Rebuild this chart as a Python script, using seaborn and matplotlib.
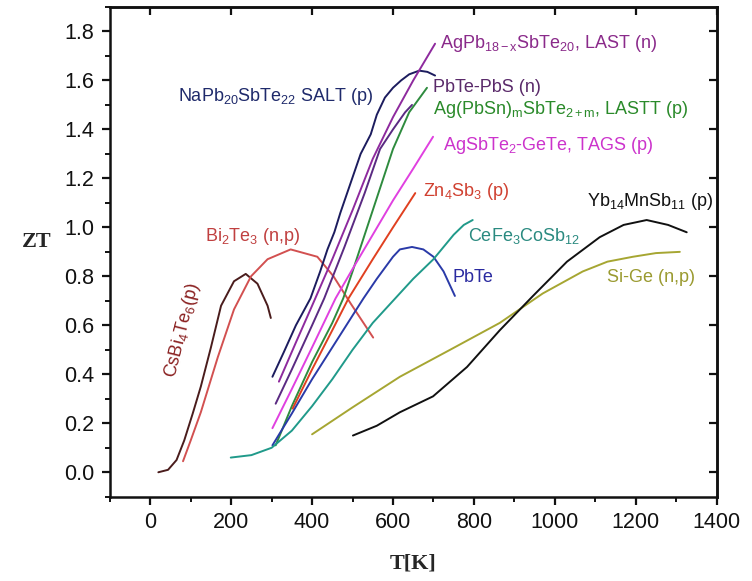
import pandas as pd
import seaborn as sns
import matplotlib
matplotlib.use("Agg")
import matplotlib.pyplot as plt
from matplotlib.ticker import MultipleLocator

# ZT vs temperature curves
csbi4te6_T = [20, 44, 65, 84, 105, 125, 150, 175, 207, 236, 265, 290, 298]
csbi4te6_ZT = [0.0, 0.01, 0.05, 0.13, 0.24, 0.35, 0.51, 0.68, 0.78, 0.81, 0.77, 0.68, 0.63]

bi2te3_T = [81, 100, 125, 167, 207, 249, 290, 347, 413, 453, 495, 551]
bi2te3_ZT = [0.045, 0.13, 0.245, 0.47, 0.665, 0.80, 0.87, 0.91, 0.88, 0.80, 0.69, 0.55]

salt_T = [302, 330, 360, 396, 420, 438, 455, 470, 495, 520, 545, 560, 580, 600, 620, 640, 665, 685, 704]
salt_ZT = [0.39, 0.49, 0.60, 0.71, 0.82, 0.91, 0.98, 1.06, 1.18, 1.30, 1.38, 1.46, 1.53, 1.57, 1.60, 1.625, 1.64, 1.635, 1.62]

last_T = [318, 360, 400, 450, 500, 550, 600, 650, 704]
last_ZT = [0.37, 0.53, 0.68, 0.87, 1.07, 1.28, 1.45, 1.60, 1.75]

pbtepbs_T = [310, 350, 400, 430, 480, 530, 568, 600, 630, 647]
pbtepbs_ZT = [0.28, 0.42, 0.60, 0.71, 0.92, 1.14, 1.32, 1.40, 1.47, 1.50]

lastt_T = [310, 350, 400, 450, 477, 500, 550, 600, 640, 684]
lastt_ZT = [0.11, 0.27, 0.45, 0.61, 0.71, 0.82, 1.07, 1.32, 1.47, 1.57]

tags_T = [302, 350, 400, 458, 500, 550, 600, 650, 699]
tags_ZT = [0.18, 0.34, 0.51, 0.71, 0.83, 0.97, 1.11, 1.24, 1.37]

zn4sb3_T = [352, 400, 450, 490, 550, 600, 655]
zn4sb3_ZT = [0.26, 0.42, 0.58, 0.71, 0.87, 1.00, 1.14]

pbte_T = [302, 350, 400, 450, 500, 527, 560, 600, 617, 647, 675, 700, 725, 753]
pbte_ZT = [0.11, 0.24, 0.38, 0.51, 0.64, 0.71, 0.79, 0.88, 0.91, 0.92, 0.91, 0.88, 0.82, 0.72]

cefe_T = [199, 250, 300, 350, 400, 450, 500, 550, 600, 650, 700, 750, 775, 797]
cefe_ZT = [0.06, 0.07, 0.10, 0.17, 0.27, 0.38, 0.50, 0.61, 0.70, 0.79, 0.87, 0.97, 1.01, 1.03]

sige_T = [400, 500, 617, 741, 864, 970, 1069, 1130, 1193, 1250, 1309]
sige_ZT = [0.155, 0.265, 0.39, 0.50, 0.61, 0.73, 0.82, 0.86, 0.88, 0.895, 0.90]

yb_T = [501, 560, 617, 699, 783, 864, 946, 1030, 1111, 1170, 1227, 1280, 1326]
yb_ZT = [0.15, 0.19, 0.245, 0.31, 0.43, 0.58, 0.72, 0.86, 0.96, 1.01, 1.03, 1.01, 0.98]

curves = {
    "CsBi4Te6": (csbi4te6_T, csbi4te6_ZT, "#4a1c1c"),
    "Bi2Te3": (bi2te3_T, bi2te3_ZT, "#d25050"),
    "SALT": (salt_T, salt_ZT, "#1c1c5e"),
    "LAST": (last_T, last_ZT, "#8e2a9e"),
    "PbTe-PbS": (pbtepbs_T, pbtepbs_ZT, "#5a2a82"),
    "LASTT": (lastt_T, lastt_ZT, "#2e8b3e"),
    "TAGS": (tags_T, tags_ZT, "#e040e0"),
    "Zn4Sb3": (zn4sb3_T, zn4sb3_ZT, "#e04020"),
    "PbTe": (pbte_T, pbte_ZT, "#2a3aa8"),
    "CeFe3CoSb12": (cefe_T, cefe_ZT, "#209a8a"),
    "Si-Ge": (sige_T, sige_ZT, "#a6a632"),
    "Yb14MnSb11": (yb_T, yb_ZT, "#111111"),
}

df = pd.concat(
    [pd.DataFrame({"T": t, "ZT": z, "material": name}) for name, (t, z, _) in curves.items()],
    ignore_index=True,
)
palette = {name: c for name, (_, _, c) in curves.items()}

# curve annotations: text, T, ZT, colour
labels = [
    (r"NaPb$_{20}$SbTe$_{22}$ SALT (p)", 69, 1.535, "#1f2a6b"),
    (r"AgPb$_{\mathrm{18-x}}$SbTe$_{20}$, LAST (n)", 716, 1.75, "#8a2a8a"),
    ("PbTe-PbS (n)", 699, 1.57, "#5a2a6a"),
    (r"Ag(PbSn)$_\mathrm{m}$SbTe$_{\mathrm{2+m}}$, LASTT (p)", 699, 1.48, "#2a8a2a"),
    (r"AgSbTe$_2$-GeTe, TAGS (p)", 723, 1.335, "#cc33cc"),
    (r"Zn$_4$Sb$_3$ (p)", 674, 1.147, "#d04030"),
    (r"Yb$_{14}$MnSb$_{11}$ (p)", 1079, 1.106, "#111111"),
    (r"CeFe$_3$CoSb$_{12}$", 785, 0.963, "#2a8a80"),
    ("PbTe", 748, 0.796, "#2a2aa0"),
    ("Si-Ge (n,p)", 1128, 0.796, "#9a9a30"),
    (r"Bi$_2$Te$_3$ (n,p)", 136, 0.963, "#c04040"),
]

sns.set_style("white")
plt.rcParams["font.family"] = ["Liberation Sans", "DejaVu Sans"]
plt.rcParams["mathtext.fontset"] = "custom"
plt.rcParams["mathtext.rm"] = "Liberation Sans"
plt.rcParams["mathtext.it"] = "Liberation Sans:italic"

fig = plt.figure(figsize=(7.52, 5.81), dpi=100)
ax = fig.add_axes([0.146, 0.145, 0.807, 0.843])

sns.lineplot(data=df, x="T", y="ZT", hue="material", palette=palette,
             estimator=None, sort=False, legend=False, linewidth=1.4, ax=ax)

for text, tx, ty, col in labels:
    ax.text(tx, ty, text, color=col, fontsize=13, ha="left", va="center")
ax.text(81, 0.58, r"CsBi$_4$Te$_6$(p)", color="#8a2020", fontsize=13,
        ha="center", va="center", rotation=76)

ax.set_xlim(-100, 1400)
ax.set_ylim(-0.1, 1.9)
ax.xaxis.set_major_locator(MultipleLocator(200))
ax.xaxis.set_minor_locator(MultipleLocator(100))
ax.yaxis.set_major_locator(MultipleLocator(0.2))
ax.yaxis.set_minor_locator(MultipleLocator(0.1))
ax.yaxis.set_major_formatter(matplotlib.ticker.FormatStrFormatter("%.1f"))
ax.tick_params(which="both", bottom=True, left=True, top=False, right=False)
ax.tick_params(which="major", direction="out", length=6, width=1.6,
               labelsize=15.5, colors="#111111", pad=5)
ax.tick_params(which="minor", direction="out", length=3.5, width=1.4, colors="#111111")

for s in ax.spines.values():
    s.set_linewidth(1.8)
    s.set_color("#111111")

# Origin-style inward ticks on the top and right sides
secx = ax.secondary_xaxis("top")
secx.xaxis.set_major_locator(MultipleLocator(200))
secx.tick_params(which="major", top=True, direction="in", length=6, width=1.6,
                 labeltop=False, colors="#111111")
secy = ax.secondary_yaxis("right")
secy.yaxis.set_major_locator(MultipleLocator(0.2))
secy.tick_params(which="major", right=True, direction="in", length=6, width=1.6,
                 labelright=False, colors="#111111")
for sec in (secx, secy):
    for s in sec.spines.values():
        s.set_linewidth(1.8)
        s.set_color("#111111")

ax.set_xlabel("T[K]", fontsize=16, fontweight="bold", family="Liberation Serif")
ax.set_ylabel("ZT", fontsize=16, fontweight="bold", family="Liberation Serif", rotation=0)
ax.xaxis.set_label_coords(0.5, -0.115)
ax.yaxis.set_label_coords(-0.12, 0.5)

fig.savefig("out.png", dpi=100)
